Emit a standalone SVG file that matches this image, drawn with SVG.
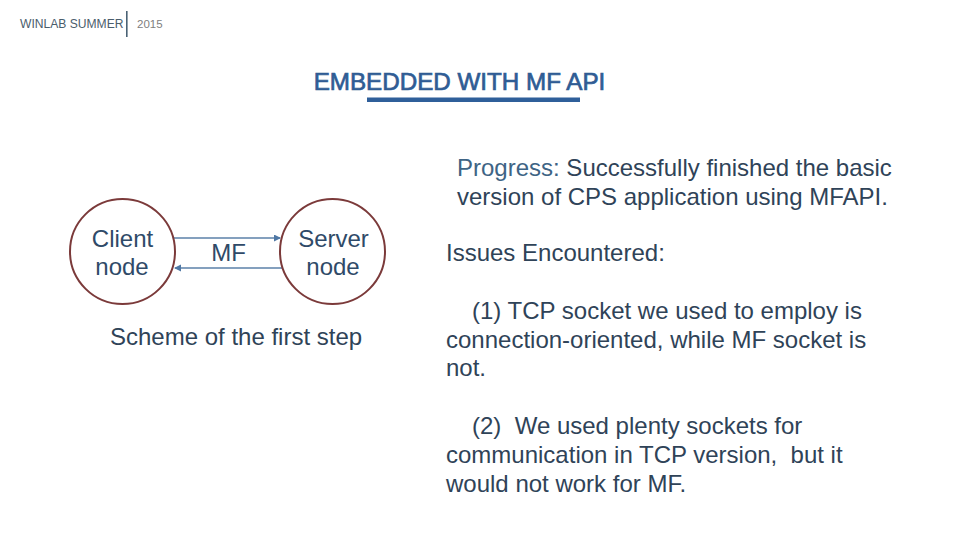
<svg xmlns="http://www.w3.org/2000/svg" width="960" height="540" viewBox="0 0 960 540">
<style>
text{font-family:"Liberation Sans",Arial,sans-serif;white-space:pre}
.b{font-size:24px;fill:#2f4358}
.n{font-size:24px;fill:#2f4a68;text-anchor:middle}
.c{fill:#fff;stroke:#7b3a3a;stroke-width:2}
.l{fill:none;stroke:#5b80a8;stroke-width:1.6;marker-end:url(#a)}
</style>
<defs><marker id="a" markerUnits="userSpaceOnUse" markerWidth="8" markerHeight="8" refX="6" refY="3.5" orient="auto"><path d="M0 0L7 3.5L0 7z" fill="#4f78a5"/></marker></defs>
<rect width="960" height="540" fill="#fff"/>
<g id="header">
<text x="20" y="28" font-size="12.100" fill="#4a5d6c">WINLAB SUMMER</text>
<rect x="126" y="11" width="1.6" height="26" fill="#4a6275"/>
<text x="137" y="28" font-size="11.500" fill="#808080">2015</text>
</g>
<g id="title">
<text x="459.500" y="90" font-size="24.200" stroke="#2f5c94" stroke-width=".7" fill="#2f5c94" text-anchor="middle">EMBEDDED WITH MF API</text>
<rect x="367" y="97.500" width="213" height="4.500" fill="#2f5f9a"/>
</g>
<g id="connectors">
<path class="l" d="M173 238H280"/>
<path class="l" d="M282 268H175"/>
</g>
<g id="client-node">
<circle class="c" cx="122.500" cy="251.500" r="52.500"/>
<text class="n" x="122.500" y="247">Client</text>
<text class="n" x="122" y="275">node</text>
</g>
<g id="server-node">
<circle class="c" cx="332.500" cy="251.500" r="52.500"/>
<text class="n" x="333.500" y="247">Server</text>
<text class="n" x="333" y="275">node</text>
</g>
<g id="mf-label"><text class="n" x="228.500" y="261">MF</text></g>
<g id="caption"><text class="b" x="110" y="345">Scheme of the first step</text></g>
<g id="progress">
<text class="b" x="457" y="176"><tspan fill="#3e6485">Progress:</tspan> Successfully finished the basic</text>
<text class="b" x="457" y="205">version of CPS application using MFAPI.</text>
</g>
<g id="issues">
<text class="b" x="446" y="261">Issues Encountered:</text>
<text class="b" x="472" y="319">(1) TCP socket we used to employ is</text>
<text class="b" x="446" y="348">connection-oriented, while MF socket is</text>
<text class="b" x="446" y="376">not.</text>
<text class="b" x="472" y="434">(2)  We used plenty sockets for</text>
<text class="b" x="446" y="463">communication in TCP version,  but it</text>
<text class="b" x="446" y="492">would not work for MF.</text>
</g>
</svg>
